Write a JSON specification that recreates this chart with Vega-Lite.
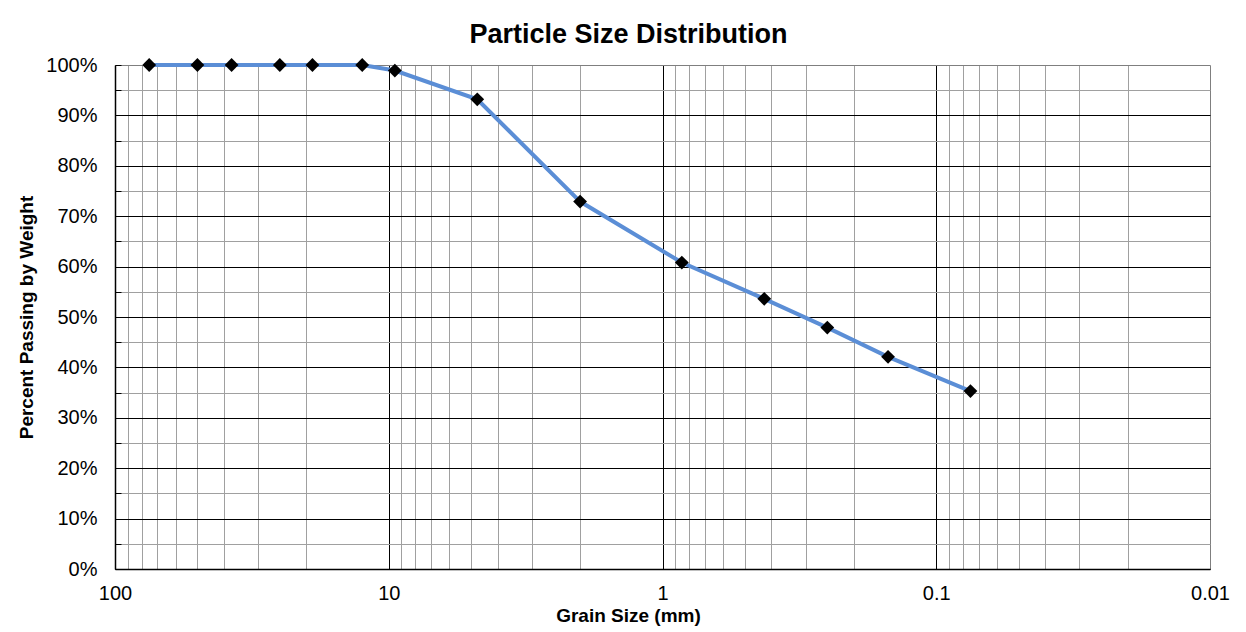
{
  "$schema": "https://vega.github.io/schema/vega-lite/v6.json",
  "width": 1095,
  "height": 504,
  "autosize": {"type": "none"},
  "padding": {"left": 115, "top": 65, "right": 36, "bottom": 63},
  "background": "white",
  "title": {
    "text": "Particle Size Distribution",
    "font": "Liberation Sans",
    "fontSize": 27,
    "fontWeight": "bold",
    "color": "black",
    "anchor": "middle",
    "dx": -34,
    "offset": 6
  },
  "config": {
    "view": {"stroke": null},
    "font": "Liberation Sans"
  },
  "data": {
    "values": [
      {"size_mm": 75, "passing": 100},
      {"size_mm": 50, "passing": 100},
      {"size_mm": 37.5, "passing": 100},
      {"size_mm": 25, "passing": 100},
      {"size_mm": 19, "passing": 100},
      {"size_mm": 12.5, "passing": 100},
      {"size_mm": 9.5, "passing": 98.9},
      {"size_mm": 4.75, "passing": 93.2},
      {"size_mm": 2.0, "passing": 72.9},
      {"size_mm": 0.85, "passing": 60.8},
      {"size_mm": 0.425, "passing": 53.6},
      {"size_mm": 0.25, "passing": 47.9},
      {"size_mm": 0.15, "passing": 42.1},
      {"size_mm": 0.075, "passing": 35.3}
    ]
  },
  "layer": [
    {
      "mark": {"type": "line", "color": "#5B8ED6", "strokeWidth": 4},
      "encoding": {
        "x": {
          "field": "size_mm",
          "type": "quantitative",
          "scale": {"type": "log", "domain": [0.01, 100], "reverse": true},
          "axis": {
            "orient": "bottom",
            "values": [90, 80, 70, 60, 50, 40, 30, 20, 9, 8, 7, 6, 5, 4, 3, 2, 0.9, 0.8, 0.7, 0.6, 0.5, 0.4, 0.3, 0.2, 0.09, 0.08, 0.07, 0.06, 0.05, 0.04, 0.03, 0.02],
            "grid": true,
            "gridColor": "#a0a0a0",
            "gridWidth": 1,
            "labels": false,
            "ticks": false,
            "domain": false,
            "title": null
          }
        },
        "y": {
          "field": "passing",
          "type": "quantitative",
          "scale": {"domain": [0, 100]},
          "axis": {
            "orient": "left",
            "values": [5, 15, 25, 35, 45, 55, 65, 75, 85, 95],
            "grid": true,
            "gridColor": "#a0a0a0",
            "gridWidth": 1,
            "labels": false,
            "ticks": true,
            "tickSize": -6,
            "tickColor": "black",
            "domain": false,
            "title": null
          }
        }
      }
    },
    {
      "mark": {"type": "point", "shape": "diamond", "filled": true, "color": "black", "opacity": 1, "size": 190},
      "encoding": {
        "x": {
          "field": "size_mm",
          "type": "quantitative",
          "scale": {"type": "log", "domain": [0.01, 100], "reverse": true},
          "axis": {
            "orient": "bottom",
            "values": [100, 10, 1, 0.1, 0.01],
            "format": "~g",
            "grid": true,
            "gridColor": {"condition": {"test": "datum.value == 0.01", "value": "#7f7f7f"}, "value": "black"},
            "gridWidth": 1,
            "ticks": false,
            "domain": true,
            "domainColor": "black",
            "domainWidth": 1.5,
            "labelFont": "Liberation Sans",
            "labelFontSize": 20,
            "labelColor": "black",
            "labelPadding": 14,
            "labelFlush": false,
            "labelOverlap": false,
            "title": "Grain Size (mm)",
            "titleFont": "Liberation Sans",
            "titleFontSize": 19,
            "titleFontWeight": "bold",
            "titleColor": "black",
            "titlePadding": 3,
            "titleX": 513
          }
        },
        "y": {
          "field": "passing",
          "type": "quantitative",
          "scale": {"domain": [0, 100]},
          "axis": {
            "orient": "left",
            "values": [0, 10, 20, 30, 40, 50, 60, 70, 80, 90, 100],
            "labelExpr": "datum.value + '%'",
            "grid": true,
            "gridColor": {"condition": {"test": "datum.value == 100", "value": "#7f7f7f"}, "value": "black"},
            "gridWidth": 1,
            "ticks": true,
            "tickSize": -6,
            "tickColor": "black",
            "domain": true,
            "domainColor": "black",
            "domainWidth": 1.5,
            "labelFont": "Liberation Sans",
            "labelFontSize": 20,
            "labelColor": "black",
            "labelPadding": 24,
            "labelOverlap": false,
            "title": "Percent Passing by Weight",
            "titleFont": "Liberation Sans",
            "titleFontSize": 19,
            "titleFontWeight": "bold",
            "titleColor": "black",
            "titlePadding": 9
          }
        }
      }
    }
  ],
  "resolve": {"axis": {"x": "independent", "y": "independent"}}
}
